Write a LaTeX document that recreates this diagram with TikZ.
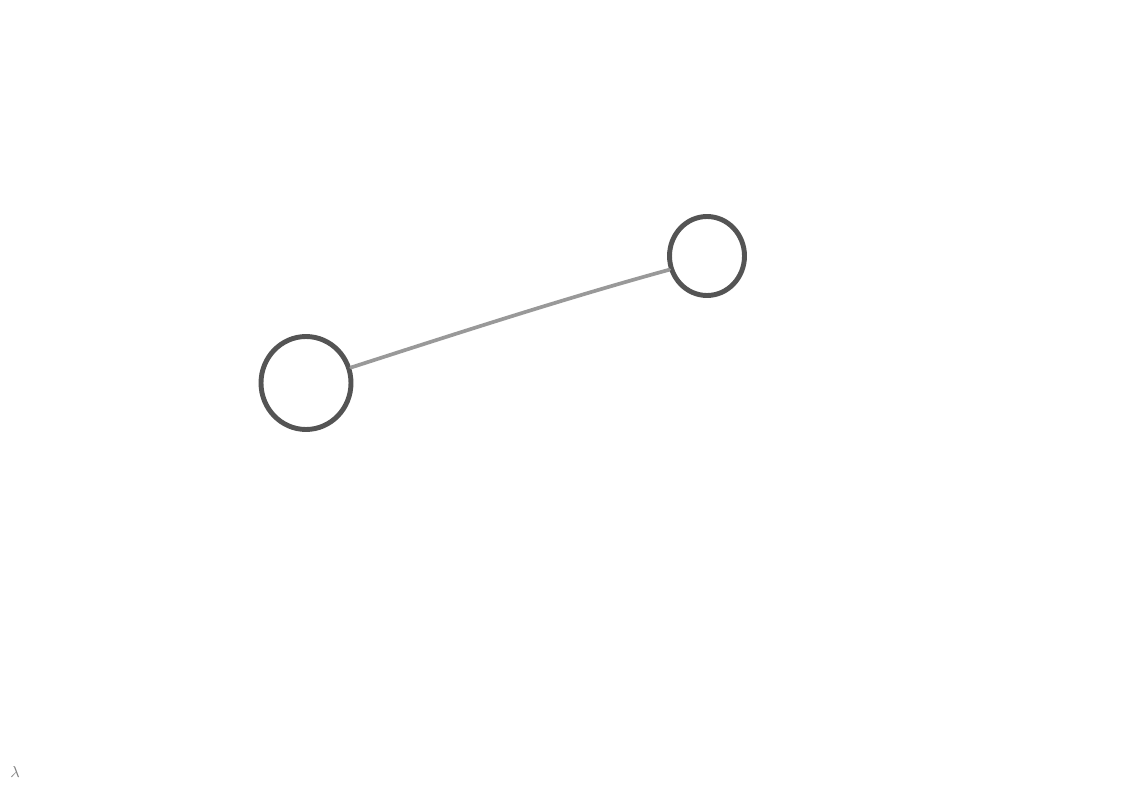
\documentclass[tikz,border=0pt]{standalone}
\usetikzlibrary{shapes.geometric}
\begin{document}
\begin{tikzpicture}[x=0.02cm,y=-0.02cm,
  nodecirc/.style={ellipse,draw=black!67,line width=2.8pt,inner sep=0pt,fill=white},
  link/.style={draw=black!40,line width=2.1pt,line cap=round}]
\useasboundingbox[fill=white] (0,0) rectangle (1132,800);
\node[nodecirc,minimum width=1.8cm,minimum height=1.86cm] (a) at (306,383) {};
\node[nodecirc,minimum width=1.5cm,minimum height=1.58cm] (b) at (707,256) {};
\draw[link] (a.19) .. controls (458,333) and (566,298) .. (b.200);
\node[text=black!50,font=\small] (lam) at (15,772) {$\lambda$};
\end{tikzpicture}
\end{document}
